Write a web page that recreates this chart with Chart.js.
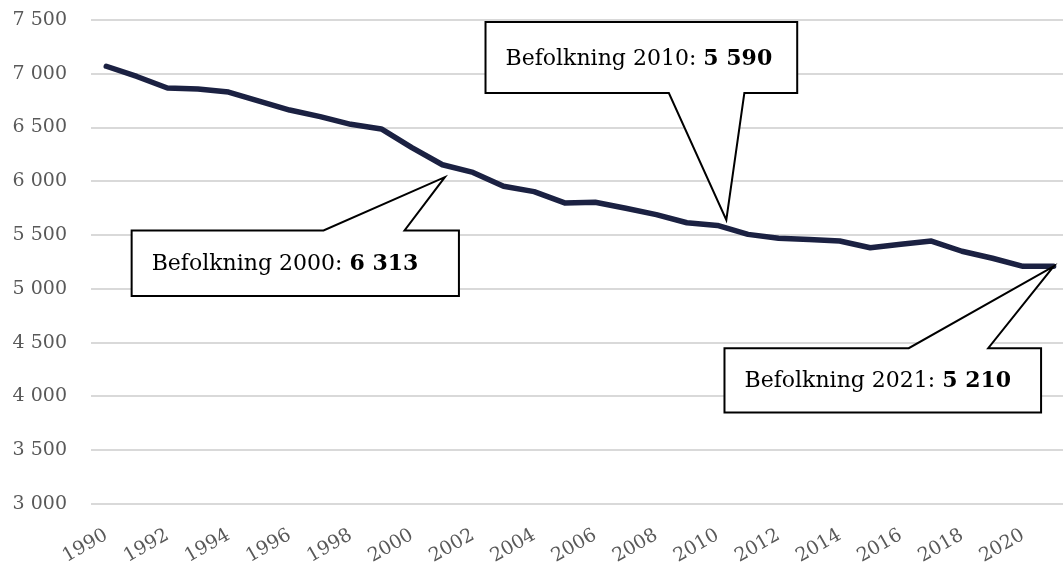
<!DOCTYPE html>
<html>
<head>
<meta charset="utf-8">
<script src="https://cdn.jsdelivr.net/npm/chart.js@4.4.0/dist/chart.umd.min.js"></script>
<style>
    html, body { margin: 0; padding: 0; background: #fff; overflow: hidden; }
    /* plot runs past the right edge of the picture, like the cropped original */
    #wrap { width: 1077px; height: 563px; position: relative; }
</style>
</head>
<body>
<div id="wrap"><canvas id="popChart"></canvas></div>
<script>
// Data
const years = [1990, 1991, 1992, 1993, 1994, 1995, 1996, 1997, 1998, 1999,
    2000, 2001, 2002, 2003, 2004, 2005, 2006, 2007, 2008, 2009,
    2010, 2011, 2012, 2013, 2014, 2015, 2016, 2017, 2018, 2019,
    2020, 2021];
const population = [7070, 6975, 6868, 6858, 6830, 6746, 6663, 6602, 6530, 6487,
    6313, 6154, 6083, 5954, 5904, 5799, 5806, 5750, 5690, 5615,
    5590, 5507, 5470, 5460, 5445, 5383, 5415, 5445, 5350, 5285,
    5210, 5210];
const yTicks = [3000, 3500, 4000, 4500, 5000, 5500, 6000, 6500, 7000, 7500];

// Callout boxes in data units: box = [x0, y0, x1, y1], base = pointer foot on box edge, tip = pointer end
const callouts = [
    { year: 2000, box: [0.83, 5543, 11.54, 4935], base: [7.11, 9.76], tip: [11.08, 6039] },
    { year: 2010, box: [12.41, 7481, 22.61, 6821], base: [18.41, 20.88], tip: [20.29, 5642] },
    { year: 2021, box: [20.23, 4449, 30.59, 3850], base: [26.26, 28.86], tip: [31, 5210] }
];

const SERIF = '"DejaVu Serif", "Liberation Serif", serif';

function fmt(v) {
    return String(v).replace(/\B(?=(\d{3})+(?!\d))/g, ' ');
}

const calloutPlugin = {
    id: 'callouts',
    afterDatasetsDraw(chart) {
        const { ctx, scales: { x, y } } = chart;
        callouts.forEach(c => {
            const left = x.getPixelForValue(c.box[0]);
            const right = x.getPixelForValue(c.box[2]);
            const top = y.getPixelForValue(c.box[1]);
            const bottom = y.getPixelForValue(c.box[3]);
            const b1 = x.getPixelForValue(c.base[0]);
            const b2 = x.getPixelForValue(c.base[1]);
            const tx = x.getPixelForValue(c.tip[0]);
            const ty = y.getPixelForValue(c.tip[1]);

            ctx.save();
            ctx.beginPath();
            ctx.moveTo(left, top);
            if (ty < top) {
                // pointer on top edge
                ctx.lineTo(b1, top);
                ctx.lineTo(tx, ty);
                ctx.lineTo(b2, top);
                ctx.lineTo(right, top);
                ctx.lineTo(right, bottom);
                ctx.lineTo(left, bottom);
            } else {
                // pointer on bottom edge
                ctx.lineTo(right, top);
                ctx.lineTo(right, bottom);
                ctx.lineTo(b2, bottom);
                ctx.lineTo(tx, ty);
                ctx.lineTo(b1, bottom);
                ctx.lineTo(left, bottom);
            }
            ctx.closePath();
            ctx.fillStyle = '#ffffff';
            ctx.fill();
            ctx.lineWidth = 2;
            ctx.lineJoin = 'miter';
            ctx.strokeStyle = '#000000';
            ctx.stroke();

            // text
            const value = population[years.indexOf(c.year)];
            const plain = 'Befolkning ' + c.year + ': ';
            const bold = fmt(value);
            const tx0 = left + 20;
            const baseY = (top + bottom) / 2 + 7;
            ctx.fillStyle = '#000000';
            ctx.textBaseline = 'alphabetic';
            ctx.textAlign = 'left';
            ctx.font = '22px ' + SERIF;
            ctx.fillText(plain, tx0, baseY);
            const w = ctx.measureText(plain).width;
            ctx.font = 'bold 22px ' + SERIF;
            ctx.fillText(bold, tx0 + w, baseY);
            ctx.restore();
        });
    }
};

const ctx = document.getElementById('popChart').getContext('2d');
new Chart(ctx, {
    type: 'line',
    data: {
        labels: years.map(String),
        datasets: [{
            label: 'Befolkning',
            data: population,
            borderColor: '#1b2142',
            borderWidth: 5.5,
            borderCapStyle: 'round',
            borderJoinStyle: 'round',
            tension: 0,
            pointRadius: 0,
            fill: false
        }]
    },
    options: {
        responsive: true,
        maintainAspectRatio: false,
        animation: false,
        layout: { padding: { top: 20, right: 0, bottom: 0, left: 0 } },
        plugins: {
            legend: { display: false },
            tooltip: { enabled: false }
        },
        scales: {
            x: {
                type: 'category',
                offset: true,
                grid: { display: false },
                border: { display: false },
                ticks: {
                    autoSkip: false,
                    maxRotation: 30,
                    minRotation: 30,
                    padding: 12,
                    color: '#595959',
                    font: { family: SERIF, size: 19 },
                    callback: function (val, i) {
                        return years[i] % 2 === 0 ? String(years[i]) : '';
                    }
                },
                afterFit: (scale) => { scale.height = 59; }
            },
            y: {
                min: yTicks[0],
                max: yTicks[yTicks.length - 1],
                afterBuildTicks: (scale) => {
                    scale.ticks = yTicks.map(v => ({ value: v }));
                },
                grid: { color: '#d9d9d9', lineWidth: 2, drawTicks: false },
                border: { display: false },
                ticks: {
                    padding: 24,
                    color: '#595959',
                    font: { family: SERIF, size: 19 },
                    callback: (value) => fmt(value)
                },
                afterFit: (scale) => {
                    scale.width = 91;
                    scale.paddingTop = 0;
                    scale.paddingBottom = 0;
                }
            }
        }
    },
    plugins: [calloutPlugin]
});
</script>
</body>
</html>
